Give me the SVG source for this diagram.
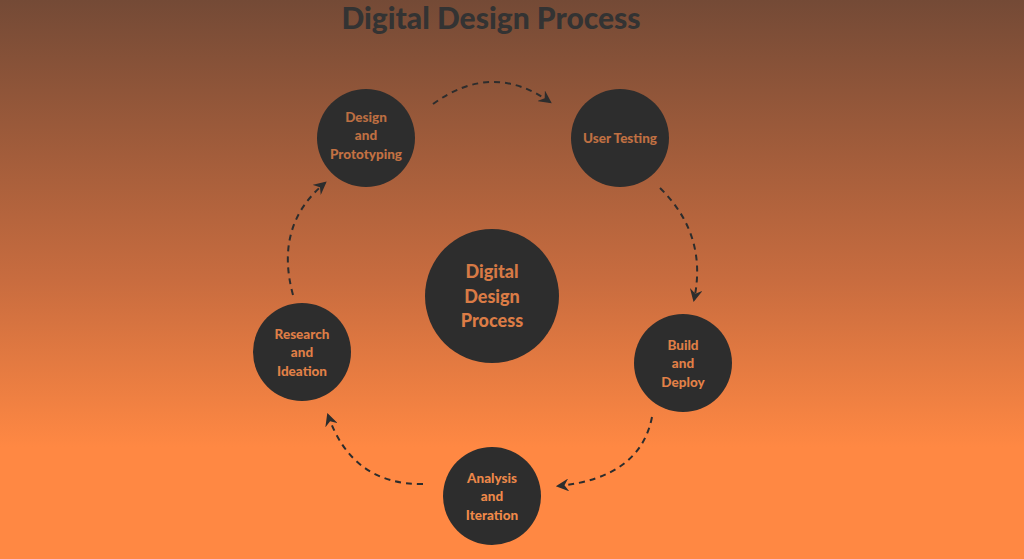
<svg xmlns="http://www.w3.org/2000/svg" width="1024" height="559" viewBox="0 0 1024 559">
<defs>
<linearGradient id="bg" x1="0" y1="0" x2="0" y2="559" gradientUnits="userSpaceOnUse">
<stop offset="0" stop-color="#744a36"/>
<stop offset="0.5" stop-color="#c86c3f"/>
<stop offset="0.8" stop-color="#ff8843"/>
<stop offset="1" stop-color="#ff8843"/>
</linearGradient>
<linearGradient id="tx" x1="0" y1="0" x2="0" y2="559" gradientUnits="userSpaceOnUse">
<stop offset="0" stop-color="#a8663f"/>
<stop offset="0.5" stop-color="#d87a45"/>
<stop offset="1" stop-color="#f58c4a"/>
</linearGradient>
<marker id="ah" viewBox="0 0 12 12" refX="10" refY="6" markerWidth="13" markerHeight="13" markerUnits="userSpaceOnUse" orient="auto">
<path d="M0,0 L12,6 L0,12 L4,6 z" fill="#2d2d2d"/>
</marker>
<style>
.node circle{fill:#2d2d2d;}
.node text{font-family:Lato,"Noto Sans",sans-serif;font-weight:900;font-size:13.5px;text-anchor:middle;fill:url(#tx);}
#center text{font-size:18px;}
#connectors path{fill:none;stroke:#2d2d2d;stroke-width:2;stroke-dasharray:6 5;marker-end:url(#ah);}
.title{font-family:Lato,"Noto Sans",sans-serif;font-weight:900;font-size:30px;fill:#333;text-anchor:middle;}
</style>
</defs>
<rect width="1024" height="559" fill="url(#bg)"/>
<text class="title" x="491" y="29">Digital Design Process</text>
<g id="connectors">
<path d="M433,104 Q492,61 550,102"/>
<path d="M660,188 Q708,235 694,300"/>
<path d="M652,417 Q640,478 558,486"/>
<path d="M423,484 Q352,485 328,415"/>
<path d="M293,295 Q274,225 325,183"/>
</g>
<g id="center" class="node">
<circle cx="492" cy="296" r="67"/>
<text x="492" y="278">Digital</text>
<text x="492" y="303">Design</text>
<text x="492" y="327">Process</text>
</g>
<g id="design" class="node">
<circle cx="366" cy="138" r="49"/>
<text x="366" y="122">Design</text>
<text x="366" y="140">and</text>
<text x="366" y="159">Prototyping</text>
</g>
<g id="testing" class="node">
<circle cx="620" cy="138" r="49"/>
<text x="620" y="143">User Testing</text>
</g>
<g id="build" class="node">
<circle cx="683" cy="363" r="49"/>
<text x="683" y="350">Build</text>
<text x="683" y="368">and</text>
<text x="683" y="387">Deploy</text>
</g>
<g id="analysis" class="node">
<circle cx="492" cy="496" r="49"/>
<text x="492" y="483">Analysis</text>
<text x="492" y="501">and</text>
<text x="492" y="520">Iteration</text>
</g>
<g id="research" class="node">
<circle cx="302" cy="352" r="49"/>
<text x="302" y="339">Research</text>
<text x="302" y="357">and</text>
<text x="302" y="376">Ideation</text>
</g>
</svg>
